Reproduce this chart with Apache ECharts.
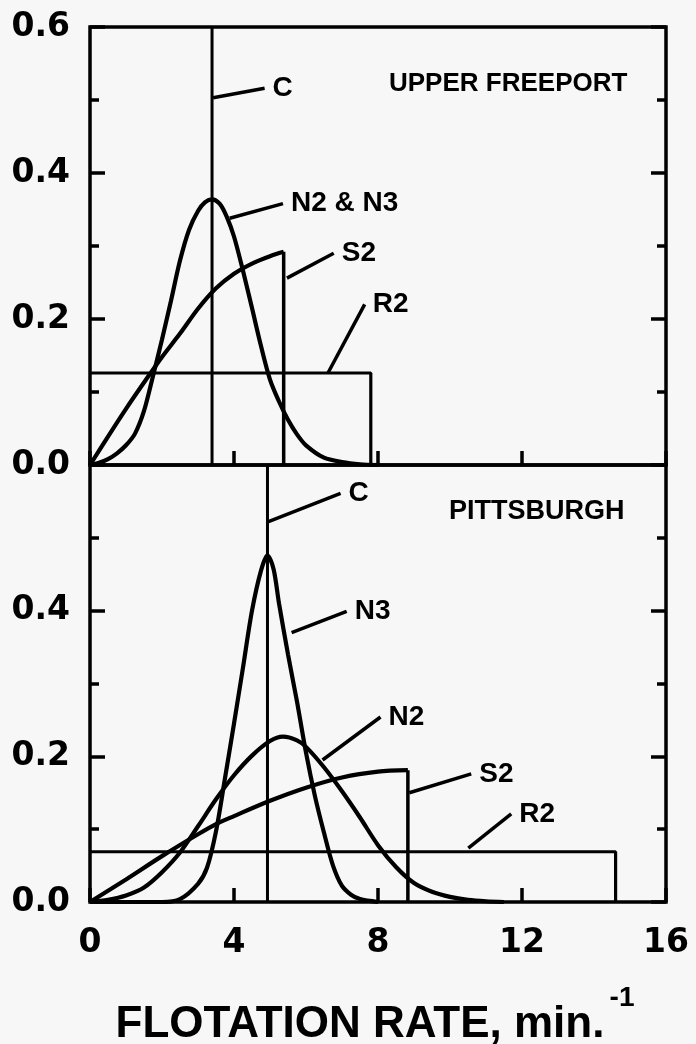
<!DOCTYPE html>
<html>
<head>
<meta charset="utf-8">
<script src="https://cdn.jsdelivr.net/npm/echarts@6/dist/echarts.min.js"></script>
<style>
html,body{margin:0;padding:0;background:#f7f7f7;}
#chart{width:696px;height:1044px;}
</style>
</head>
<body>
<div id="chart"></div>
<script>
// ---------- Data ----------
// Upper Freeport (top panel)
const ufCx = 3.39;
const ufNx = [0,0.25,0.5,0.75,1.0,1.25,1.5,1.75,2.0,2.25,2.5,2.75,3.0,3.2,3.39,3.6,3.8,4.0,4.25,4.5,4.75,5.0,5.25,5.5,5.75,6.0,6.5,7.0,7.5,8.0];
const ufNy = [0,0.003,0.008,0.016,0.027,0.043,0.074,0.122,0.172,0.225,0.28,0.322,0.348,0.360,0.364,0.358,0.340,0.313,0.266,0.215,0.163,0.117,0.087,0.062,0.042,0.027,0.010,0.004,0.001,0];
const ufS2x = [0,0.5,1,1.5,2,2.5,3,3.5,4,4.5,5,5.38];
const ufS2y = [0,0.039,0.077,0.113,0.148,0.18,0.214,0.242,0.262,0.276,0.286,0.292];
const ufR2x = [0,7.8];
const ufR2y = 0.126;

// Pittsburgh (bottom panel)
const piCx = 4.93;
const piN3x = [0,2.0,2.5,3.0,3.25,3.5,3.75,4.0,4.25,4.5,4.75,4.93,5.1,5.25,5.5,5.75,6.0,6.25,6.5,6.75,7.0,7.25,7.5,8.0];
const piN3y = [0,0,0.004,0.025,0.047,0.097,0.17,0.245,0.322,0.4,0.455,0.476,0.457,0.41,0.34,0.275,0.205,0.145,0.095,0.05,0.022,0.01,0.004,0];
const piN2x = [0,0.5,1,1.5,2,2.5,3,3.5,4,4.5,5,5.36,5.75,6,6.5,7,7.5,8,8.5,9,9.5,10,10.5,11,11.5];
const piN2y = [0,0.003,0.009,0.02,0.041,0.068,0.104,0.141,0.174,0.201,0.221,0.227,0.222,0.213,0.185,0.152,0.116,0.078,0.048,0.026,0.014,0.007,0.003,0.001,0];
const piS2x = [0,1,2,3,3.5,4,5,6,7,8,8.83];
const piS2y = [0,0.031,0.063,0.093,0.107,0.118,0.139,0.157,0.171,0.179,0.181];
const piR2x = [0,14.6];
const piR2y = 0.069;

// Tick labels
const xTickLabels = ['0','4','8','12','16'];
const topYLabels = ['0.0','0.2','0.4','0.6'];
const bottomYLabels = ['0.0','0.2','0.4',''];

// Annotation leaders: [name, x1, y1, x2, y2] in data units
const ufLeaders = [
  ['C', 3.42, 0.503, 4.85, 0.516],
  ['N2 & N3', 3.88, 0.338, 5.36, 0.358],
  ['S2', 5.47, 0.256, 6.77, 0.290],
  ['R2', 6.61, 0.126, 7.63, 0.220]
];
const piLeaders = [
  ['C', 4.94, 0.522, 6.96, 0.561],
  ['N3', 5.6, 0.37, 7.13, 0.399],
  ['N2', 6.46, 0.195, 8.07, 0.254],
  ['S2', 8.87, 0.150, 10.59, 0.176],
  ['R2', 10.51, 0.074, 11.70, 0.121]
];

// ---------- Build ----------
const zip = (xs, ys) => xs.map((x, i) => [x, ys[i]]);
const BLACK = '#000';
const LABEL_FONT = 'DejaVu Sans';
const TEXT_FONT = 'Liberation Sans';

function curve(data, xi, yi, w, smooth) {
  return { type: 'line', data: data, xAxisIndex: xi, yAxisIndex: yi, symbol: 'none', smooth: smooth,
    lineStyle: { color: BLACK, width: w }, z: 5, silent: true };
}
function leader(l, xi, yi) {
  return { type: 'line', name: l[0], data: [[l[1], l[2]], [l[3], l[4]]], xAxisIndex: xi, yAxisIndex: yi,
    symbol: 'none', lineStyle: { color: BLACK, width: 3.5 }, z: 6, clip: false, silent: true,
    endLabel: { show: true, formatter: l[0], color: BLACK, fontFamily: TEXT_FONT, fontWeight: 'bold',
      fontSize: 28, distance: 8 } };
}

function xAxis(gi, showLabel) {
  return { type: 'value', gridIndex: gi, min: 0, max: 16, interval: 4,
    axisLine: { show: false }, splitLine: { show: false },
    axisTick: { show: true, inside: true, length: 14, lineStyle: { color: BLACK, width: 3.5 } },
    axisLabel: { show: showLabel, margin: 25, color: BLACK, fontFamily: LABEL_FONT, fontWeight: 'bold', fontSize: 33,
      formatter: (v) => xTickLabels[Math.round(v / 4)] } };
}
function yAxis(gi, pos, labels) {
  return { type: 'value', gridIndex: gi, position: pos, min: 0, max: 0.6, interval: 0.2,
    axisLine: { show: false }, splitLine: { show: false },
    axisTick: { show: true, inside: true, length: 15, lineStyle: { color: BLACK, width: 3.5 } },
    minorTick: { show: true, splitNumber: 2, length: 9, lineStyle: { color: BLACK, width: 3.5 } },
    minorSplitLine: { show: false },
    axisLabel: { show: !!labels, margin: 20, padding: [6, 0, 0, 0], color: BLACK, fontFamily: LABEL_FONT,
      fontWeight: 'bold', fontSize: 33,
      formatter: (v) => labels ? labels[Math.round(v / 0.2)] : '' } };
}

const series = [];
// top panel
series.push(curve([[ufCx, 0], [ufCx, 0.6]], 0, 0, 3, false));
series.push(curve(zip(ufR2x, ufR2x.map(() => ufR2y)).concat([[ufR2x[1], 0]]), 0, 0, 3.2, false));
series.push(curve(zip(ufS2x, ufS2y), 0, 0, 4.2, 0.3));
series.push(curve([[ufS2x[ufS2x.length - 1], ufS2y[ufS2y.length - 1]], [ufS2x[ufS2x.length - 1], 0]], 0, 0, 3.5, false));
series.push(curve(zip(ufNx, ufNy), 0, 0, 4.2, 0.3));
ufLeaders.forEach(l => series.push(leader(l, 0, 0)));
// bottom panel
series.push(curve([[piCx, 0], [piCx, 0.6]], 1, 2, 3, false));
series.push(curve(zip(piR2x, piR2x.map(() => piR2y)).concat([[piR2x[1], 0]]), 1, 2, 3.2, false));
series.push(curve(zip(piS2x, piS2y), 1, 2, 4.2, 0.3));
series.push(curve([[piS2x[piS2x.length - 1], piS2y[piS2y.length - 1]], [piS2x[piS2x.length - 1], 0]], 1, 2, 3.5, false));
series.push(curve(zip(piN2x, piN2y), 1, 2, 4.2, 0.3));
series.push(curve(zip(piN3x, piN3y), 1, 2, 4.2, 0.3));
piLeaders.forEach(l => series.push(leader(l, 1, 2)));

const chart = echarts.init(document.getElementById('chart'), null, { renderer: 'canvas' });
chart.setOption({
  backgroundColor: '#f7f7f7',
  animation: false,
  grid: [
    { left: 90, top: 27, width: 576, height: 438, show: true, borderColor: BLACK, borderWidth: 3.5,
      backgroundColor: 'transparent', containLabel: false, outerBoundsMode: 'none' },
    { left: 90, top: 465, width: 576, height: 437, show: true, borderColor: BLACK, borderWidth: 3.5,
      backgroundColor: 'transparent', containLabel: false, outerBoundsMode: 'none' }
  ],
  xAxis: [xAxis(0, false), xAxis(1, true)],
  yAxis: [yAxis(0, 'left', topYLabels), yAxis(0, 'right', null), yAxis(1, 'left', bottomYLabels), yAxis(1, 'right', null)],
  series: series,
  graphic: [
    { type: 'text', x: 389, y: 84, style: { text: 'UPPER FREEPORT', fill: BLACK, font: 'bold 26px "Liberation Sans"',
      align: 'left', verticalAlign: 'middle', textAlign: 'left', textVerticalAlign: 'middle' } },
    { type: 'text', x: 449, y: 512, style: { text: 'PITTSBURGH', fill: BLACK, font: 'bold 27px "Liberation Sans"',
      align: 'left', verticalAlign: 'middle', textAlign: 'left', textVerticalAlign: 'middle' } },
    { type: 'text', x: 360, y: 1025, style: { text: 'FLOTATION RATE, min.', fill: BLACK, font: 'bold 44px "Liberation Sans"',
      align: 'center', verticalAlign: 'middle', textAlign: 'center', textVerticalAlign: 'middle' } },
    { type: 'text', x: 622, y: 998, style: { text: '-1', fill: BLACK, font: 'bold 28px "Liberation Sans"',
      align: 'center', verticalAlign: 'middle', textAlign: 'center', textVerticalAlign: 'middle' } }
  ]
});
</script>
</body>
</html>
